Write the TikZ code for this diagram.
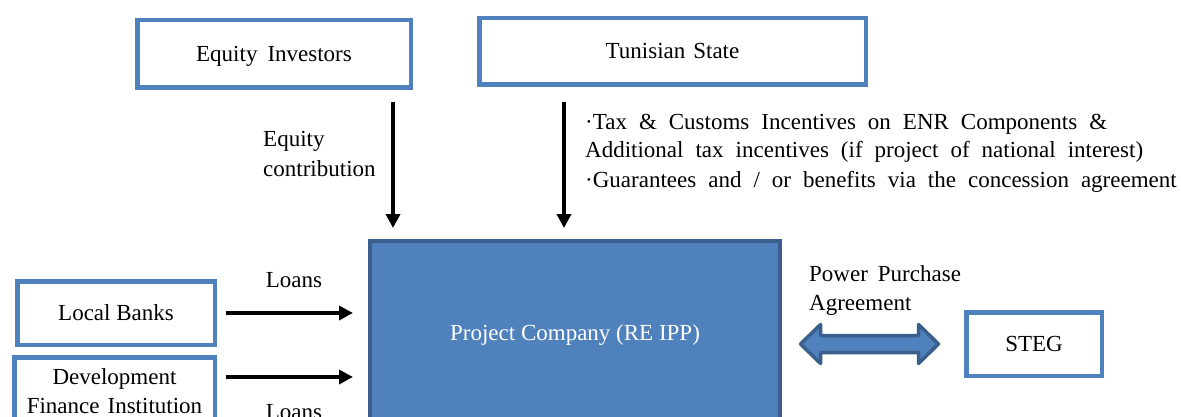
\documentclass[tikz,border=0pt]{standalone}
\usepackage{fontspec}
\setmainfont{Liberation Serif}
\usetikzlibrary{arrows.meta,calc}
\definecolor{boxblue}{RGB}{79,129,189}
\definecolor{edgeblue}{RGB}{58,95,140}
\newcommand{\widespaces}{\spaceskip=12pt\relax}
\begin{document}
\begin{tikzpicture}[x=1pt,y=-1pt,
  font=\fontsize{23}{29}\selectfont,
  party/.style={draw=boxblue, line width=4.5pt, fill=white, inner sep=0pt, align=center},
  oneline/.style={text height=20pt, text depth=5pt},
  company/.style={draw=edgeblue, line width=4pt, fill=boxblue, text=white,
    inner sep=0pt, text height=20pt, text depth=5pt},
  flow/.style={line width=4.5pt, -{Triangle[length=14pt,width=14pt]}},
  note/.style={inner sep=0pt, align=left},
  ppa/.style={draw=edgeblue, line width=3.5pt, fill=boxblue, line join=round}]
\useasboundingbox (0,0) rectangle (1181,417);
\clip (0,0) rectangle (1181,417);

% parties
\node[party, oneline, minimum width=273.5pt, minimum height=67.5pt] (eq) at (274,54) {Equity\hspace{10pt}Investors};
\node[party, oneline, minimum width=386.5pt, minimum height=66.5pt] (ts) at (672.5,51.5) {Tunisian\hspace{8pt}State};
\node[party, oneline, minimum width=197.5pt, minimum height=63.5pt] (lb) at (116,313) {Local Banks};
\node[party, minimum width=200.5pt, minimum height=67.5pt] (dfi) at (114.5,391) {Development\\Finance\hspace{8pt}Institution};
\node[party, oneline, minimum width=135.5pt, minimum height=63.5pt] (steg) at (1034,344) {STEG};
\node[company, minimum width=410pt, minimum height=184pt] (pc) at (575,333) {Project Company (RE IPP)};

% equity and state support
\coordinate (eqs) at ([xshift=-20pt,yshift=-12pt]eq.south east);
\coordinate (tss) at ([xshift=87pt,yshift=-15pt]ts.south west);
\draw[flow, shorten >=11pt] (eqs) -- (eqs |- pc.north);
\draw[flow, shorten >=11pt] (tss) -- (tss |- pc.north);
\node[note, anchor=base west] (eqlab) at (263,176) {Equity\\contribution};
\node[note, anchor=base west, execute at begin node=\widespaces] (tslab) at (585,187)
  {·Tax \& Customs Incentives on ENR Components \&\\
   Additional tax incentives (if project of national interest)\\
   ·Guarantees and / or benefits via the concession agreement};

% loans
\coordinate (lbs) at ([xshift=9pt]lb.east);
\coordinate (dfis) at ([xshift=9pt,yshift=-22pt]dfi.north east);
\draw[flow, shorten >=15pt] (lbs) -- (lbs -| pc.west);
\draw[flow, shorten >=15pt] (dfis) -- (dfis -| pc.west);
\node[note, anchor=base] (loan1) at (294,287) {Loans};
\node[note, anchor=base] (loan2) at (294,419) {Loans};

% power purchase agreement
\coordinate (al) at ([xshift=18.5pt]pc.east |- steg.west);
\coordinate (ar) at ([xshift=-25.5pt]steg.west);
\draw[ppa] (al) -- ++(20,-19.5) -- ++(0,11) -- ($(ar)+(-20,-8.5)$) -- ++(0,-11)
  -- (ar) -- ++(-20,19.5) -- ++(0,-11) -- ($(al)+(20,8.5)$) -- ++(0,11) -- cycle;
\node[note, anchor=base west] (ppalab) at (809,310) {Power\hspace{10pt}Purchase\\Agreement};
\end{tikzpicture}
\end{document}
